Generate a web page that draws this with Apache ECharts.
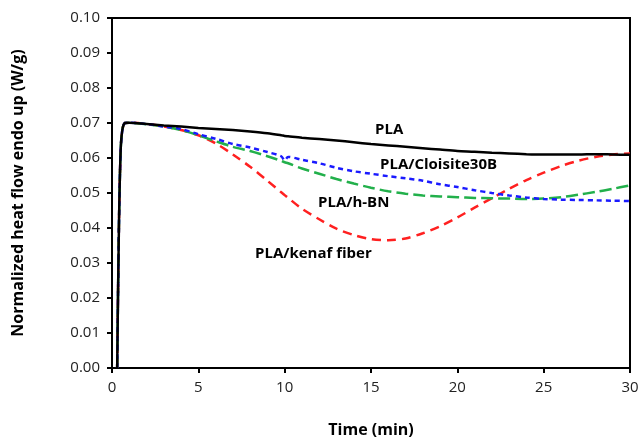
<!DOCTYPE html>
<html>
<head>
<meta charset="utf-8">
<script src="https://cdn.jsdelivr.net/npm/echarts@6/dist/echarts.min.js"></script>
<style>
html,body{margin:0;padding:0;background:#fff;}
#chart{width:639px;height:438px;}
</style>
</head>
<body>
<div id="chart"></div>
<script>
// time axis (min), shared by all curves
var time = [0.3,0.4,0.5,0.6,0.75,1,2,3,4,5,6,7,8,9,9.8,10,10.2,11,12,13,14,15,16,17,18,19,20,21,22,23,24,25,26,27,28,29,30];
var pla =      [0,0.040,0.062,0.068,0.0700,0.0701,0.0697,0.0693,0.0690,0.0686,0.0683,0.0680,0.0676,0.0671,0.0665,0.0663,0.0662,0.0658,0.0654,0.0650,0.0645,0.0640,0.0636,0.0632,0.0628,0.0624,0.0620,0.0618,0.0615,0.0613,0.0611,0.0610,0.0610,0.0610,0.0611,0.0610,0.0609];
var cloisite = [0,0.040,0.062,0.068,0.0700,0.0701,0.0697,0.0690,0.0683,0.0668,0.0655,0.0640,0.0630,0.0617,0.0605,0.0593,0.0603,0.0595,0.0585,0.0572,0.0562,0.0555,0.0548,0.0542,0.0535,0.0525,0.0517,0.0508,0.0500,0.0493,0.0487,0.0483,0.0481,0.0480,0.0479,0.0478,0.0477];
var hbn =      [0,0.040,0.062,0.068,0.0700,0.0701,0.0696,0.0690,0.0680,0.0665,0.0648,0.0632,0.0620,0.0605,0.0592,0.0588,0.0585,0.0570,0.0555,0.0540,0.0527,0.0515,0.0505,0.0498,0.0493,0.0490,0.0488,0.0486,0.0485,0.0484,0.0483,0.0484,0.0488,0.0495,0.0503,0.0512,0.0522];
var kenaf =    [0,0.040,0.062,0.068,0.0700,0.0701,0.0697,0.0690,0.0680,0.0665,0.0642,0.0610,0.0575,0.0535,0.0502,0.0494,0.0486,0.0455,0.0425,0.0398,0.0380,0.0368,0.0365,0.0370,0.0385,0.0405,0.0430,0.0458,0.0485,0.0512,0.0537,0.0558,0.0577,0.0592,0.0603,0.0610,0.0613];

var names = ['PLA','PLA/Cloisite30B','PLA/h-BN','PLA/kenaf fiber'];
var values = [pla, cloisite, hbn, kenaf];
var colors = ['#000000','#1a1aff','#22b04b','#ff2020'];
var dashes = ['solid',[5,4],[12,5],[9,6]];

function pairs(ys){
	var out=[];
	for(var i=0;i<time.length;i++){ out.push([time[i],ys[i]]); }
	return out;
}

var chart = echarts.init(document.getElementById('chart'));
var series=[];
for(var i=0;i<names.length;i++){
	series.push({
		name:names[i],
		type:'line',
		showSymbol:false,
		smooth:0.3,
		data:pairs(values[i]),
		lineStyle:{color:colors[i],width:2.5,type:dashes[i]},
		z:10-i
	});
}
var font='"Open Sans", "Liberation Sans", sans-serif';
option = {
	animation:false,
	grid:{left:112,right:9,top:18,bottom:70,show:true,borderColor:'#000',borderWidth:2,outerBoundsMode:'none'},
	xAxis:{
		type:'value',min:0,max:30,interval:5,
		name:'Time (min)',nameLocation:'middle',nameGap:54,
		nameTextStyle:{fontFamily:font,fontSize:16,fontWeight:'bold',color:'#000'},
		axisLine:{lineStyle:{color:'#000',width:2}},
		axisTick:{inside:false,length:5,lineStyle:{color:'#000',width:2}},
		axisLabel:{fontFamily:font,fontSize:15,color:'#222',margin:12},
		splitLine:{show:false}
	},
	yAxis:{
		type:'value',min:0,max:0.1,interval:0.01,
		name:'Normalized heat flow endo up (W/g)',nameLocation:'middle',nameGap:86,
		nameTextStyle:{fontFamily:font,fontSize:16,fontWeight:'bold',color:'#000'},
		axisLine:{lineStyle:{color:'#000',width:2}},
		axisTick:{inside:false,length:5,lineStyle:{color:'#000',width:2}},
		axisLabel:{fontFamily:font,fontSize:15,color:'#222',margin:12,formatter:function(v){return v.toFixed(2);}},
		splitLine:{show:false}
	},
	graphic:[
		{type:'text',left:375,top:122,style:{text:'PLA',font:'bold 15px '+font,fill:'#000'}},
		{type:'text',left:380,top:157,style:{text:'PLA/Cloisite30B',font:'bold 15px '+font,fill:'#000'}},
		{type:'text',left:318,top:195,style:{text:'PLA/h-BN',font:'bold 15px '+font,fill:'#000'}},
		{type:'text',left:255,top:246,style:{text:'PLA/kenaf fiber',font:'bold 15px '+font,fill:'#000'}}
	],
	series:series
};
chart.setOption(option);
</script>
</body>
</html>
